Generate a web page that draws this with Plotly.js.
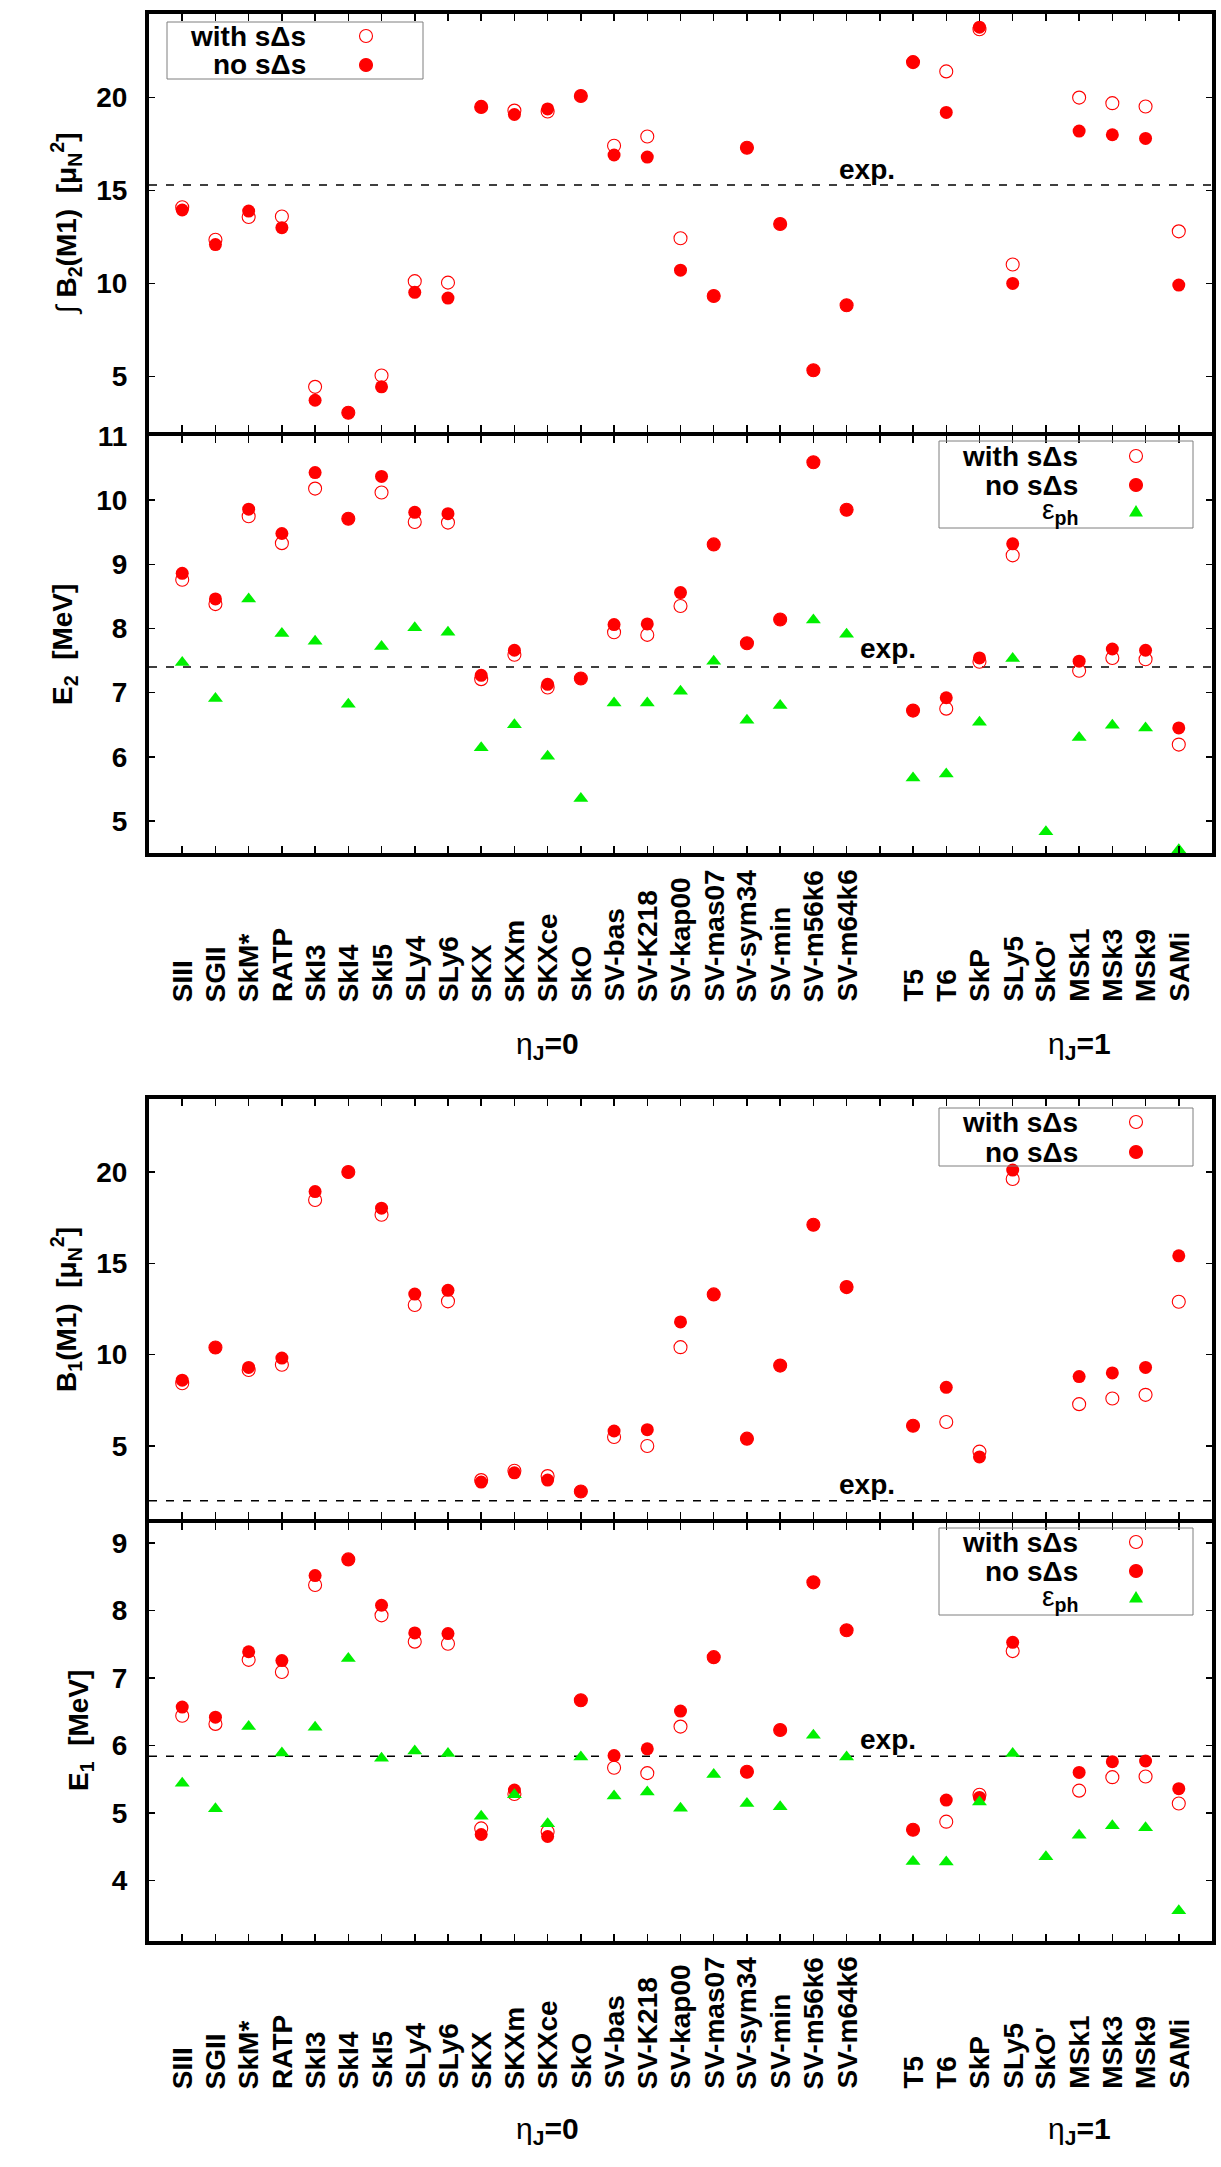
<!DOCTYPE html>
<html>
<head>
<meta charset="utf-8">
<script src="https://cdn.plot.ly/plotly-3.0.1.min.js"></script>
<style>html,body{margin:0;padding:0;background:#fff}</style>
</head>
<body>
<div id="chart" style="width:1221px;height:2167px"></div>
<script>
// Skyrme parametrisations, ordered as on the axis (an empty slot separates the eta_J=0 and eta_J=1 groups)
const models = ['SIII','SGII','SkM*','RATP','SkI3','SkI4','SkI5','SLy4','SLy6','SKX','SKXm','SKXce','SkO',
  'SV-bas','SV-K218','SV-kap00','SV-mas07','SV-sym34','SV-min','SV-m56k6','SV-m64k6','',
  'T5','T6','SkP','SLy5',"SkO'",'MSk1','MSk3','MSk9','SAMi'];
const xpos = models.map((_, i) => i + 1);

// summed M1 strength of the upper branch, B2(M1) [mu_N^2]
const b2With = [14.1,12.35,13.57,13.6,4.43,3.04,5.04,10.12,10.04,19.5,19.3,19.25,20.09,17.41,17.91,12.43,9.32,17.3,13.2,5.32,8.82,null,21.91,21.41,23.68,11.02,null,20.0,19.7,19.52,12.8];
const b2No   = [13.95,12.09,13.89,13.0,3.71,3.04,4.43,9.52,9.21,19.5,19.09,19.39,20.09,16.91,16.8,10.71,9.32,17.3,13.2,5.32,8.82,null,21.91,19.2,23.79,10.0,null,18.2,18.0,17.8,9.91];
const b2Exp  = [15.3];

// energy of the upper branch, E2 [MeV]
const e2With = [8.76,8.38,9.75,9.33,10.18,9.71,10.12,9.66,9.65,7.21,7.59,7.08,7.22,7.94,7.90,8.35,9.31,7.77,8.14,10.59,9.85,null,6.72,6.75,7.48,9.14,null,7.34,7.54,7.52,6.19];
const e2No   = [8.86,8.46,9.86,9.48,10.43,9.71,10.37,9.81,9.79,7.27,7.66,7.13,7.22,8.06,8.07,8.56,9.31,7.77,8.14,10.59,9.85,null,6.72,6.92,7.54,9.32,null,7.49,7.68,7.66,6.45];
const e2Ph   = [7.47,6.91,8.46,7.92,7.80,6.82,7.72,8.01,7.94,6.14,6.50,6.01,5.35,6.84,6.84,7.02,7.49,6.57,6.80,8.13,7.91,null,5.67,5.73,6.54,7.53,4.83,6.30,6.49,6.45,4.55];
const e2Exp  = [7.40];

// M1 strength of the lower branch, B1(M1) [mu_N^2]
const b1With = [8.43,10.39,9.16,9.45,18.47,20.0,17.66,12.72,12.92,3.13,3.64,3.35,2.51,5.49,5.0,10.41,13.3,5.4,9.4,17.11,13.7,null,6.11,6.31,4.69,19.62,null,7.29,7.6,7.8,12.9];
const b1No   = [8.6,10.39,9.3,9.81,18.93,20.0,18.02,13.32,13.52,3.02,3.53,3.13,2.51,5.82,5.89,11.79,13.3,5.4,9.4,17.11,13.7,null,6.11,8.21,4.4,20.11,null,8.8,9.0,9.3,15.41];
const b1Exp  = [2.0];

// energy of the lower branch, E1 [MeV]
const e1With = [6.44,6.32,7.27,7.09,8.38,8.76,7.93,7.54,7.51,4.77,5.28,4.72,6.67,5.67,5.59,6.28,7.31,5.61,6.23,8.42,7.71,null,4.75,4.87,5.27,7.40,null,5.33,5.53,5.54,5.14];
const e1No   = [6.57,6.42,7.39,7.26,8.52,8.76,8.08,7.67,7.66,4.68,5.34,4.65,6.67,5.85,5.95,6.51,7.31,5.61,6.23,8.42,7.71,null,4.75,5.19,5.23,7.53,null,5.60,5.76,5.77,5.36];
const e1Ph   = [5.44,5.06,6.28,5.89,6.27,7.29,5.81,5.92,5.88,4.95,5.27,4.84,5.83,5.25,5.31,5.07,5.57,5.14,5.09,6.15,5.83,null,4.28,4.27,5.16,5.88,4.35,4.67,4.81,4.78,3.55];
const e1Exp  = [5.84];

const groupNames = ['<span style="font-weight:normal">η</span><b><sub>J</sub>=0</b>',
                    '<span style="font-weight:normal">η</span><b><sub>J</sub>=1</b>'];

// ---- page geometry (pixels) ----
const W = 1221, H = 2167;
const px = v => v / W;
const py = v => 1 - v / H;
const FONT = 'Liberation Sans, Arial, Helvetica, sans-serif';
const RED = '#ff0000', GREEN = '#00f000';

// frames that touch leave a gap equal to the frame line width so their borders coincide
const frames = [
  {top: 14,   bot: 432,  range: [2, 24.5],  tickvals: [5, 10, 15, 20]},
  {top: 436,  bot: 853,  range: [4.5, 11],  tickvals: [5, 6, 7, 8, 9, 10, 11]},
  {top: 1099, bot: 1519, range: [1, 24],    tickvals: [5, 10, 15, 20]},
  {top: 1523, bot: 1941, range: [3.1, 9.3], tickvals: [4, 5, 6, 7, 8, 9]}
];

function xAxis(anchor) {
  return {domain: [px(149), px(1212)], range: [0, 32], anchor,
    tickvals: xpos, ticks: 'inside', ticklen: 7, tickwidth: 1.5, tickcolor: '#000',
    showticklabels: false, showline: true, linecolor: '#000', linewidth: 4,
    mirror: 'allticks', showgrid: false, zeroline: false, fixedrange: true};
}
function yAxis(anchor, f) {
  return {domain: [py(f.bot), py(f.top)], range: f.range, anchor,
    tickvals: f.tickvals, ticks: 'inside', ticklen: 6, tickwidth: 1.5, tickcolor: '#000',
    showline: true, linecolor: '#000', linewidth: 4, mirror: 'allticks',
    showgrid: false, zeroline: false, fixedrange: true, ticklabelstandoff: 12,
    tickfont: {family: FONT, size: 28, weight: 'bold', color: '#000'}};
}

const markerStyle = {
  open:   {symbol: 'circle-open', size: 13, color: RED, line: {color: RED, width: 1.1}},
  filled: {symbol: 'circle', size: 13, color: RED, line: {width: 0}},
  ph:     {symbol: 'triangle-up', size: 13, color: GREEN, line: {width: 0}}
};
function series(y, kind, n) {
  const s = n === 1 ? '' : String(n);
  return {type: 'scatter', mode: 'markers', x: xpos, y, xaxis: 'x' + s, yaxis: 'y' + s,
    marker: markerStyle[kind], hoverinfo: 'skip', showlegend: false};
}

const data = [
  series(b2With, 'open', 1), series(b2No, 'filled', 1),
  series(e2With, 'open', 2), series(e2No, 'filled', 2), series(e2Ph, 'ph', 2),
  series(b1With, 'open', 3), series(b1No, 'filled', 3),
  series(e1With, 'open', 4), series(e1No, 'filled', 4), series(e1Ph, 'ph', 4)
];

const shapes = [];
const annotations = [];

// experimental reference values: dashed lines with an "exp." tag
[[b2Exp[0], 1, 21.6, 16.15], [e2Exp[0], 2, 22.25, 7.69], [b1Exp[0], 3, 21.6, 2.87], [e1Exp[0], 4, 22.25, 6.09]]
  .forEach(([v, n, tx, ty]) => {
    const s = n === 1 ? '' : String(n);
    shapes.push({type: 'line', layer: 'below', xref: 'x' + s + ' domain', x0: 0, x1: 1,
      yref: 'y' + s, y0: v, y1: v, line: {color: '#000', width: 1.5, dash: '8px,9px'}});
    annotations.push({xref: 'x' + s, yref: 'y' + s, x: tx, y: ty, text: '<b>exp.</b>',
      showarrow: false, xanchor: 'center', yanchor: 'middle', font: {family: FONT, size: 28, color: '#000'}});
  });

// key boxes (text on the left, symbol on the right)
function key(box, textRight, symX, rows) {
  shapes.push({type: 'rect', xref: 'paper', yref: 'paper', layer: 'above',
    x0: px(box[0]), x1: px(box[2]), y0: py(box[3]), y1: py(box[1]),
    line: {color: '#7f7f7f', width: 1}, fillcolor: 'rgba(0,0,0,0)'});
  rows.forEach(([label, kind, yy]) => {
    annotations.push({xref: 'paper', yref: 'paper', x: px(textRight), y: py(yy), text: label,
      showarrow: false, xanchor: 'right', yanchor: 'middle', font: {family: FONT, size: 28, color: '#000'}});
    const base = {xref: 'paper', yref: 'paper', xsizemode: 'pixel', ysizemode: 'pixel',
      xanchor: px(symX), yanchor: py(yy), layer: 'above'};
    if (kind === 'ph') {
      shapes.push(Object.assign({type: 'path', path: 'M -7 -4.5 L 7 -4.5 L 0 7 Z',
        fillcolor: GREEN, line: {width: 0}}, base));
    } else {
      shapes.push(Object.assign({type: 'circle', x0: -6.5, x1: 6.5, y0: -6.5, y1: 6.5,
        fillcolor: kind === 'filled' ? RED : 'rgba(0,0,0,0)', line: {color: RED, width: 1.1}}, base));
    }
  });
}
const rowWith = '<b>with sΔs</b>', rowNo = '<b>no sΔs</b>', rowPh = '<span style="font-weight:normal">ε</span><b><sub>ph</sub></b>';
key([167, 22, 423, 79], 308, 366, [[rowWith, 'open', 36], [rowNo, 'filled', 65]]);
key([939, 441, 1193, 528], 1080, 1136, [[rowWith, 'open', 456], [rowNo, 'filled', 485], [rowPh, 'ph', 512]]);
key([939, 1108, 1193, 1166], 1080, 1136, [[rowWith, 'open', 1122], [rowNo, 'filled', 1152]]);
key([939, 1528, 1193, 1615], 1080, 1136, [[rowWith, 'open', 1542], [rowNo, 'filled', 1571], [rowPh, 'ph', 1598]]);

// vertical axis titles
const sp = '\u00a0\u00a0';
[['<span style="font-weight:normal">∫</span> <b>B<sub>2</sub>(M1)' + sp + '[μ<sub>N</sub><sup>2</sup>]</b>', 66, 224],
 ['<b>E<sub>2</sub>' + sp + '[MeV]</b>', 64, 645],
 ['<b>B<sub>1</sub>(M1)' + sp + '[μ<sub>N</sub><sup>2</sup>]</b>', 66, 1310],
 ['<b>E<sub>1</sub>' + sp + '[MeV]</b>', 80, 1731]]
  .forEach(([t, x, y]) => annotations.push({xref: 'paper', yref: 'paper', x: px(x), y: py(y), text: t,
    textangle: -90, showarrow: false, xanchor: 'center', yanchor: 'middle',
    font: {family: FONT, size: 28, color: '#000'}}));

// rotated model names under the two energy frames, plus group captions
[['x2', 1004, 1045], ['x4', 2091, 2130]].forEach(([xr, yLab, yGrp]) => {
  models.forEach((m, i) => {
    if (!m) return;
    annotations.push({xref: xr, yref: 'paper', x: xpos[i], y: py(yLab), text: '<b>' + m + '</b>',
      textangle: -90, showarrow: false, xanchor: 'center', yanchor: 'bottom',
      font: {family: FONT, size: 28, color: '#000'}});
  });
  [[groupNames[0], 12], [groupNames[1], 28]].forEach(([g, at]) => {
    annotations.push({xref: xr, yref: 'paper', x: at, y: py(yGrp), text: g, showarrow: false,
      xanchor: 'center', yanchor: 'middle',
      font: {family: 'Liberation Sans Narrow, ' + FONT, size: 30, color: '#000'}});
  });
});

const layout = {
  width: W, height: H, margin: {l: 0, r: 0, t: 0, b: 0},
  paper_bgcolor: '#fff', plot_bgcolor: '#fff', showlegend: false,
  font: {family: FONT, color: '#000'},
  xaxis: xAxis('y'),  yaxis: yAxis('x', frames[0]),
  xaxis2: xAxis('y2'), yaxis2: yAxis('x2', frames[1]),
  xaxis3: xAxis('y3'), yaxis3: yAxis('x3', frames[2]),
  xaxis4: xAxis('y4'), yaxis4: yAxis('x4', frames[3]),
  shapes, annotations
};

Plotly.newPlot('chart', data, layout, {staticPlot: true, displayModeBar: false});
</script>
</body>
</html>
